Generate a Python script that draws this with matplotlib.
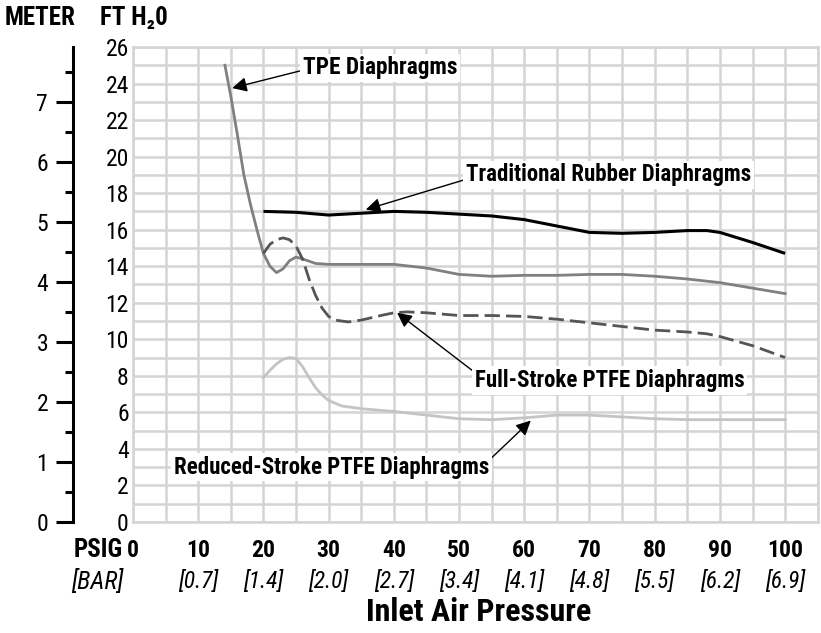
import matplotlib
matplotlib.use("Agg")
import matplotlib.pyplot as plt
from matplotlib.ticker import MultipleLocator

plt.rcParams['font.family'] = ['Roboto Condensed', 'DejaVu Sans']

# data (psi, ft of water)
tpe_x = [14.1, 15, 16, 17, 18, 19, 20, 21, 22, 23, 24, 25, 26, 28, 30, 35, 40, 45, 50,
         55, 60, 65, 70, 75, 80, 85, 90, 95, 100]
tpe_y = [25.0, 23.3, 21.2, 19.0, 17.4, 16.0, 14.7, 14.0, 13.65, 13.85, 14.3, 14.5, 14.4,
         14.15, 14.1, 14.1, 14.1, 13.9, 13.55, 13.45, 13.5, 13.5, 13.55, 13.55, 13.45,
         13.3, 13.1, 12.8, 12.5]

rub_x = [20, 25, 30, 35, 40, 45, 50, 55, 60, 65, 70, 75, 80, 85, 88, 90, 95, 100]
rub_y = [17.0, 16.95, 16.8, 16.9, 17.0, 16.95, 16.85, 16.75, 16.55, 16.2, 15.85, 15.8,
         15.85, 15.95, 15.95, 15.85, 15.3, 14.7]

full_x = [20, 21, 22, 23, 24, 25, 26, 27, 28, 29, 30, 31, 33, 35, 38, 40, 42, 45, 50, 55,
          60, 65, 70, 75, 80, 85, 88, 90, 95, 100]
full_y = [14.7, 15.2, 15.45, 15.55, 15.45, 15.1, 14.4, 13.3, 12.4, 11.7, 11.25, 11.05,
          10.95, 11.05, 11.3, 11.45, 11.5, 11.45, 11.3, 11.3, 11.25, 11.1, 10.9, 10.7,
          10.5, 10.4, 10.3, 10.15, 9.65, 9.0]

red_x = [20, 21, 22, 23, 24, 25, 26, 27, 28, 29, 30, 32, 35, 40, 45, 50, 55, 60, 65, 70,
         75, 80, 85, 90, 100]
red_y = [7.9, 8.3, 8.65, 8.9, 9.0, 8.95, 8.5, 7.9, 7.35, 6.95, 6.65, 6.35, 6.2, 6.05,
         5.85, 5.65, 5.6, 5.7, 5.85, 5.85, 5.75, 5.65, 5.6, 5.6, 5.6]

psi_ticks = [0, 10, 20, 30, 40, 50, 60, 70, 80, 90, 100]
bar_labels = ['', '[0.7]', '[1.4]', '[2.0]', '[2.7]', '[3.4]', '[4.1]', '[4.8]', '[5.5]',
              '[6.2]', '[6.9]']
ft_ticks = list(range(0, 27, 2))
meter_ticks = [0, 1, 2, 3, 4, 5, 6, 7]

fig = plt.figure(figsize=(8.21, 6.33), dpi=100)
ax = fig.add_axes([0.162, 0.1754, 0.834, 0.7504])

ax.set_xlim(0, 105)
ax.set_ylim(0, 26)
ax.xaxis.set_minor_locator(MultipleLocator(5))
ax.set_yticks(ft_ticks)
ax.yaxis.set_minor_locator(MultipleLocator(1))
ax.grid(True, which='both', color='#d4d4d4', lw=1.8)
ax.set_axisbelow(True)
for s in ax.spines.values():
    s.set_color('#d4d4d4')
    s.set_linewidth(1.8)

ax.tick_params(which='both', length=0)
ax.tick_params(axis='y', labelsize=17, pad=3)
ax.tick_params(axis='x', labelsize=17, pad=12)
ax.set_xticks(psi_ticks)
ax.set_xticklabels([str(v) for v in psi_ticks], fontweight='bold')

for v, b in zip(psi_ticks, bar_labels):
    ax.text(v, -0.125, b, transform=ax.get_xaxis_transform(), ha='center', va='center',
            fontsize=17, style='italic')

ax.text(-5.4, -0.06, 'PSIG', transform=ax.get_xaxis_transform(), ha='center', va='center',
        fontsize=18, fontweight='bold')
ax.text(-5.4, -0.125, '[BAR]', transform=ax.get_xaxis_transform(), ha='center', va='center',
        fontsize=18, style='italic')
fig.text(0.583, 0.033, 'Inlet Air Pressure', fontsize=23, fontweight='bold',
         ha='center', va='center')

# curves
ax.plot(rub_x, rub_y, color='black', lw=2.2, solid_capstyle='butt')
ax.plot(tpe_x, tpe_y, color='#808080', lw=2.0)
ax.plot(full_x, full_y, color='#555555', lw=2.0, dashes=(5.5, 2.2))
ax.plot(red_x, red_y, color='#c4c4c4', lw=2.0)

# callouts
box = dict(facecolor='white', edgecolor='none', pad=2)


def arrow(rp):
    return dict(arrowstyle='-|>', color='black', lw=1.0, mutation_scale=22,
                shrinkA=0, shrinkB=0, relpos=rp)


ax.annotate('TPE Diaphragms', xy=(15.2, 23.75), xytext=(26.0, 24.85), fontsize=16.8,
            fontweight='bold', va='center', ha='left', bbox=box, arrowprops=arrow((0, 0.4)))
ax.annotate('Traditional Rubber Diaphragms', xy=(35.7, 17.1), xytext=(51.0, 19.0),
            fontsize=16.5, fontweight='bold', va='center', ha='left', bbox=box,
            arrowprops=arrow((0, 0.3)))
ax.annotate('Full-Stroke PTFE Diaphragms', xy=(40.5, 11.45), xytext=(52.4, 7.75),
            fontsize=16.5, fontweight='bold', va='center', ha='left', bbox=box,
            arrowprops=arrow((0, 0.85)))
ax.annotate('Reduced-Stroke PTFE Diaphragms', xy=(61.0, 5.55), xytext=(54.6, 3.0),
            fontsize=16.5, fontweight='bold', va='center', ha='right', bbox=box,
            arrowprops=arrow((1, 0.8)))

# meter scale on the far left
ft_per_m = 3.28084
sec = ax.secondary_yaxis(-0.0876, functions=(lambda f: f / ft_per_m, lambda m: m * ft_per_m))
sec.set_yticks(meter_ticks)
sec.yaxis.set_minor_locator(MultipleLocator(0.5))
sec.spines['left'].set_linewidth(2.2)
sec.spines['left'].set_color('black')
sec.tick_params(which='major', length=12, width=2.2, labelsize=17, pad=6)
sec.tick_params(which='minor', length=6, width=2.2)

fig.text(0.006, 0.972, 'METER', fontsize=18, fontweight='bold', va='center', ha='left')
fig.text(0.122, 0.972, 'FT H\u20820', fontsize=18, fontweight='bold', va='center',
         ha='left')

fig.savefig('out.png', dpi=100)
